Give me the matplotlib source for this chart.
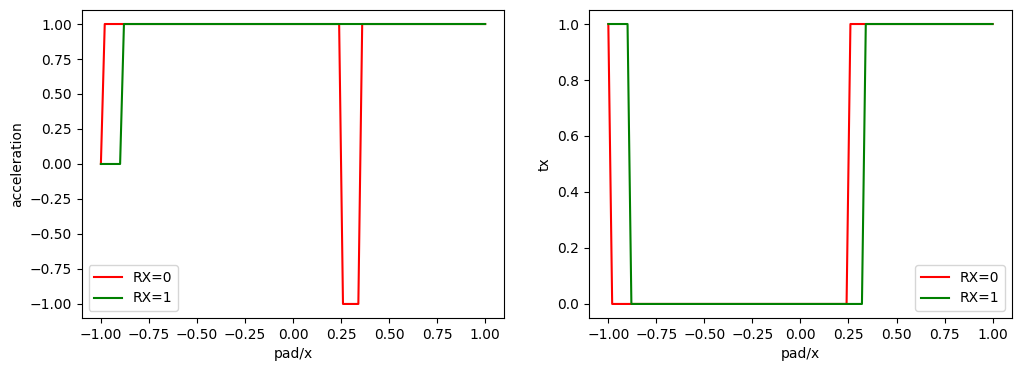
import matplotlib
matplotlib.use("Agg")
from matplotlib import pyplot as plt

# breakpoints of the step curves (x = pad/x)
acc_x_rx0 = [-1.0, -0.98, 0.24, 0.26, 0.34, 0.36, 1.0]
acc_y_rx0 = [0, 1, 1, -1, -1, 1, 1]
acc_x_rx1 = [-1.0, -0.90, -0.88, 1.0]
acc_y_rx1 = [0, 0, 1, 1]

tx_x_rx0 = [-1.0, -0.98, 0.24, 0.26, 1.0]
tx_y_rx0 = [1, 0, 0, 1, 1]
tx_x_rx1 = [-1.0, -0.90, -0.88, 0.32, 0.34, 1.0]
tx_y_rx1 = [1, 1, 0, 0, 1, 1]

fig = plt.figure(figsize=(10.21, 3.71), dpi=100)
bottom, height = 0.143, 0.973 - 0.143
ax1 = fig.add_axes([0.080, bottom, 0.494 - 0.080, height])
ax2 = fig.add_axes([0.577, bottom, 0.991 - 0.577, height])

ax1.plot(acc_x_rx0, acc_y_rx0, color='r', label='RX=0')
ax1.plot(acc_x_rx1, acc_y_rx1, color='g', label='RX=1')
ax1.set_xlabel('pad/x')
ax1.set_ylabel('acceleration')
ax1.legend(loc='lower left')

ax2.plot(tx_x_rx0, tx_y_rx0, color='r', label='RX=0')
ax2.plot(tx_x_rx1, tx_y_rx1, color='g', label='RX=1')
ax2.set_xlabel('pad/x')
ax2.set_ylabel('tx')
ax2.legend(loc='lower right')

fig.savefig('out.png')
